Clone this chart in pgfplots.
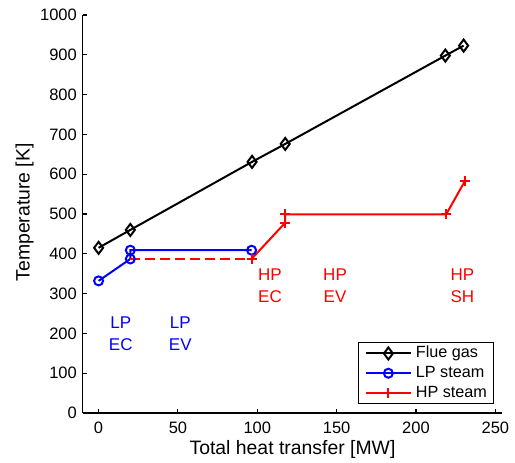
\documentclass[border=0pt]{standalone}
\usepackage{pgfplots}
\pgfplotsset{compat=1.18}
\usepackage{fontspec}
\setmainfont{Liberation Sans}
\begin{document}
\fontsize{16.5}{19}\selectfont
\begin{tikzpicture}
\begin{axis}[
  scale only axis, width=419pt, height=398pt,
  xmin=-10, xmax=254, ymin=0, ymax=1000,
  axis lines*=left,
  axis line style={line width=1.3pt},
  tick align=inside,
  major tick length=4pt,
  tick style={line width=1.1pt, black},
  xtick={0,50,...,250}, ytick={0,100,...,1000},
  /pgf/number format/assume math mode=true,
  /pgf/number format/1000 sep={},
  tick label style={font=\fontsize{16.5}{19}\selectfont},
  yticklabel style={inner xsep=0pt, xshift=-5.7pt},
  xticklabel style={inner ysep=0pt, yshift=-9pt},
  label style={font=\fontsize{19.4}{23}\selectfont},
  xlabel={Total heat transfer [MW]},
  ylabel={Temperature [K]},
  xlabel style={at={(axis description cs:0.5007,0)}, anchor=base, yshift=-41.3pt},
  ylabel style={at={([xshift=-53.1pt]axis description cs:0,0.504)}, anchor=base},
  legend style={at={(axis description cs:0.9816,0.0219)}, anchor=south east,
    font=\fontsize{16.2}{19}\selectfont, draw=black, line width=1pt,
    nodes={inner sep=0pt, text height=12pt, text depth=3.5pt},
    row sep=4.3pt, column sep=4pt, inner xsep=6.5pt, inner ysep=3pt,
    cells={anchor=west}},
  legend image code/.code={\draw[mark repeat=2,mark phase=2] plot coordinates {(0pt,0pt)(22.5pt,0pt)(45pt,0pt)};},
]
\addplot[black, line width=2pt, mark=diamond, mark size=6pt, mark options={solid, line width=2pt}]
  coordinates {(0,415) (20,460) (96.7,631) (117.6,676) (218.5,898) (230,923)};
\addlegendentry{Flue gas}
\addplot[blue, line width=2pt, mark=o, mark size=4.5pt, mark options={solid, line width=2pt}]
  coordinates {(0,332) (20,387) (20,409) (96.4,409)};
\addlegendentry{LP steam}
\addplot[red, line width=2pt, mark=+, mark size=5pt, mark options={solid, line width=2pt}]
  coordinates {(96.6,388) (117.6,478) (117.6,499) (219,499) (231,584)};
\addlegendentry{HP steam}
\addplot[red, line width=2pt, dash pattern=on 10pt off 5pt, forget plot]
  coordinates {(20,388) (96.6,388)};
\node[blue, align=center, inner sep=0pt, font=\fontsize{17}{21.7}\selectfont] at (axis cs:14,199) {LP\\EC};
\node[blue, align=center, inner sep=0pt, font=\fontsize{17}{21.7}\selectfont] at (axis cs:51.5,199) {LP\\EV};
\node[red, align=center, inner sep=0pt, font=\fontsize{17}{21.7}\selectfont] at (axis cs:108,320) {HP\\EC};
\node[red, align=center, inner sep=0pt, font=\fontsize{17}{21.7}\selectfont] at (axis cs:149,320) {HP\\EV};
\node[red, align=center, inner sep=0pt, font=\fontsize{17}{21.7}\selectfont] at (axis cs:229.2,320) {HP\\SH};
\end{axis}
\pgfresetboundingbox
\path (current axis.south west) ++(-82.7pt,-49.3pt) coordinate (bl);
\path (current axis.north east) ++(13.3pt,15pt) coordinate (tr);
\useasboundingbox (bl) rectangle (tr);
\end{tikzpicture}
\end{document}
